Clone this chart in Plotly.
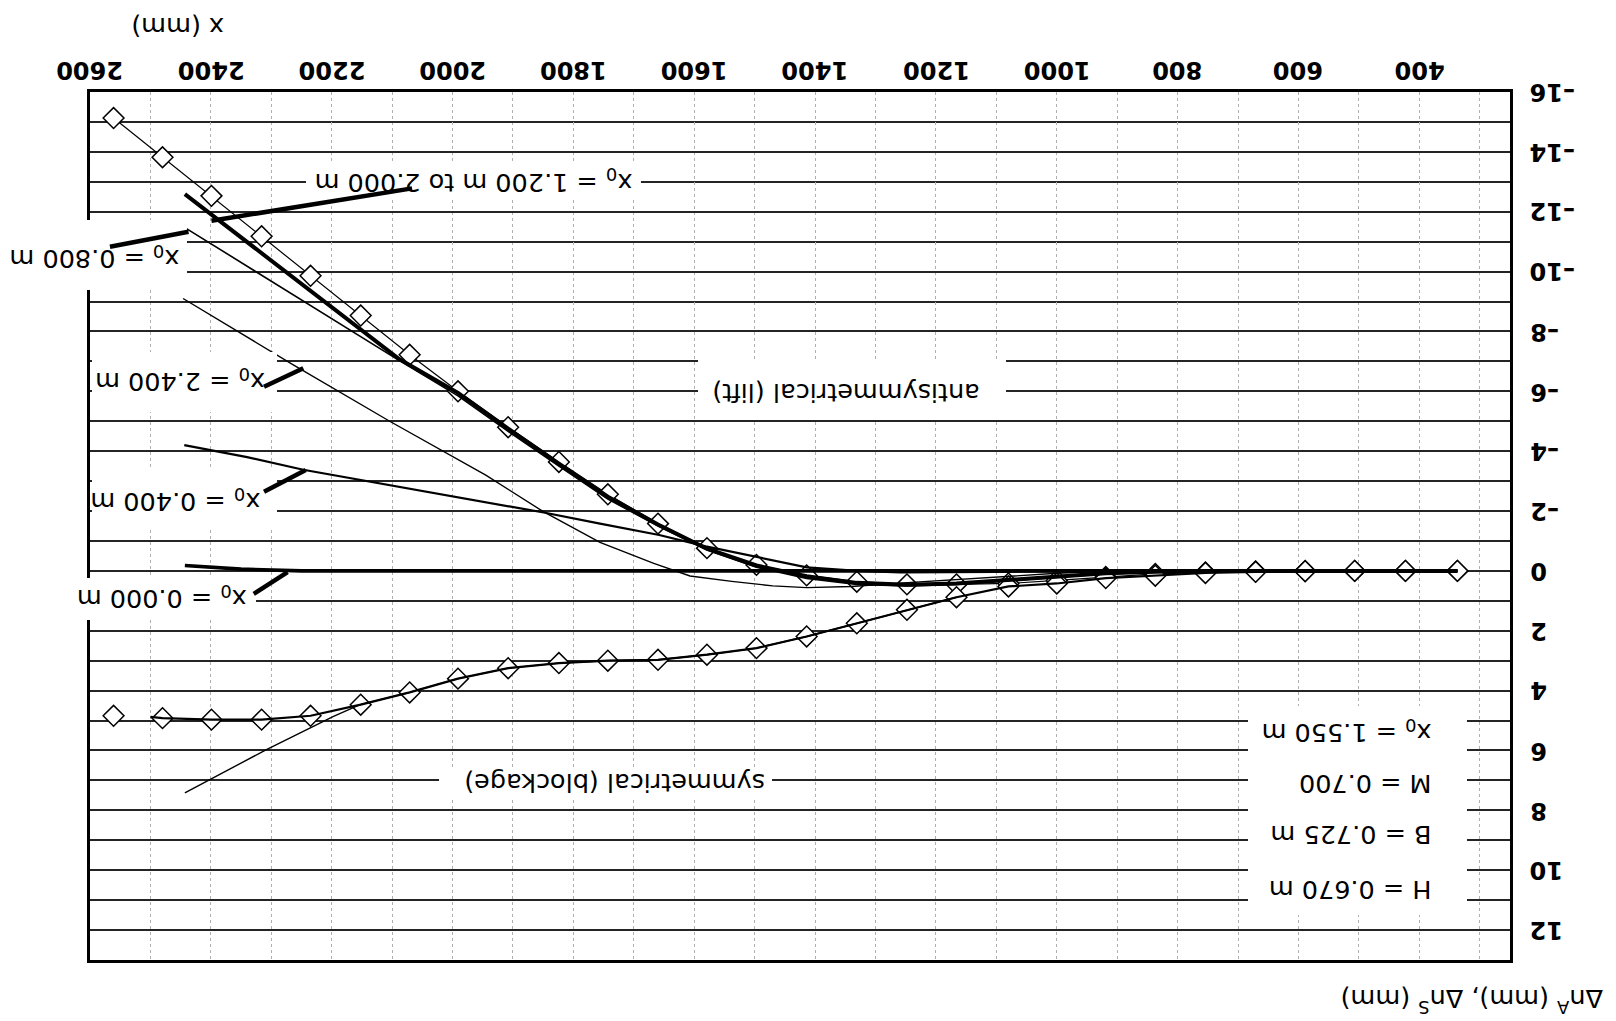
import plotly.graph_objects as go

# ---------------------------------------------------------------
# Measured stations along the model (mm) and measured deflections
# ---------------------------------------------------------------
x_meas = [2561, 2480, 2399, 2316, 2235, 2152, 2071, 1991, 1908, 1824, 1743, 1660,
          1579, 1497, 1414, 1331, 1248, 1166, 1080, 1000, 919, 837, 754, 671,
          589, 507, 423, 337]
dn_anti = [-15.13, -13.82, -12.53, -11.18, -9.86, -8.53, -7.22, -6.0, -4.8, -3.64,
           -2.56, -1.58, -0.76, -0.2, 0.15, 0.36, 0.45, 0.45, 0.42, 0.32, 0.2,
           0.1, 0.05, 0.02, 0.0, 0.0, 0.0, 0.0]
dn_sym = [4.84, 4.92, 4.97, 4.97, 4.84, 4.47, 4.06, 3.6, 3.25, 3.08, 3.0, 2.97,
          2.8, 2.58, 2.19, 1.75, 1.3, 0.88, 0.52, 0.42, 0.24, 0.16, 0.07, 0.03,
          0.01, 0.0, 0.0, 0.0]

# ---------------------------------------------------------------
# Computed curves for several pivot positions x0
# ---------------------------------------------------------------
x_x0_000 = [2443, 2350, 2250, 337]
y_x0_000 = [-0.18, -0.06, 0.0, 0.0]

x_x0_400 = [2444, 2340, 2247, 2100, 1970, 1849, 1756, 1658, 1581, 1495, 1414,
            1330, 1259, 1100, 900, 337]
y_x0_400 = [-4.2, -3.8, -3.38, -2.85, -2.38, -1.95, -1.58, -1.2, -0.82, -0.47,
            -0.12, 0.0, 0.05, 0.03, 0.0, 0.0]

x_x0_800 = [2443, 2090, 1991, 1908, 1824, 1743, 1660, 1579, 1497,
            1414, 1331, 1248, 1166, 1080, 1000, 919, 837, 754, 337]
y_x0_800 = [-11.47, -7.05, -5.85, -4.66, -3.5, -2.4, -1.5, -0.7,
            -0.12, 0.25, 0.45, 0.5, 0.45, 0.32, 0.2, 0.1, 0.04, 0.0, 0.0]

x_x0_1200_2000 = [2443, 2090, 1991, 1908, 1824, 1743, 1660, 1579,
                  1497, 1414, 1331, 1248, 1166, 1080, 1000, 919, 837, 754, 337]
y_x0_1200_2000 = [-12.59, -7.1, -5.95, -4.75, -3.58, -2.48, -1.55,
                  -0.74, -0.18, 0.18, 0.4, 0.46, 0.42, 0.3, 0.18, 0.08, 0.03, 0.0, 0.0]

x_x0_2400 = [2446, 2265, 2104, 1945, 1849, 1756, 1667, 1607, 1538, 1470, 1414,
             1340, 1260, 1170, 1094, 1000, 929, 800, 337]
y_x0_2400 = [-9.1, -6.9, -5.0, -3.2, -1.97, -0.95, -0.25, 0.17, 0.35, 0.5, 0.56,
             0.52, 0.41, 0.3, 0.19, 0.08, 0.02, 0.0, 0.0]

# symmetrical (blockage) response, x0 = 1.550 m
x_sym_fit = [2500, 2480, 2399, 2316, 2235, 2152, 2071, 1991, 1908, 1824, 1743,
             1660, 1579, 1497, 1414, 1331, 1248, 1166, 1080, 1000, 919, 837, 754,
             671, 589, 337]
y_sym_fit = [4.88, 4.92, 4.97, 4.97, 4.84, 4.47, 4.06, 3.6, 3.25, 3.08, 3.0, 2.97,
             2.8, 2.58, 2.19, 1.75, 1.3, 0.88, 0.52, 0.42, 0.24, 0.16, 0.07, 0.03,
             0.0, 0.0]
x_sym_lin = [2443, 2308, 2197, 2153, 2071, 1991, 1908, 1824, 1743, 1660, 1579,
             1497, 1414, 1331, 1248, 1166]
y_sym_lin = [7.42, 5.97, 4.86, 4.47, 4.06, 3.6, 3.25, 3.08, 3.0, 2.97, 2.8, 2.58,
             2.19, 1.75, 1.3, 0.88]

# axis ticks
x_ticks = [400, 600, 800, 1000, 1200, 1400, 1600, 1800, 2000, 2200, 2400, 2600]
y_ticks = [-16, -14, -12, -10, -8, -6, -4, -2, 0, 2, 4, 6, 8, 10, 12]

FONT = "DejaVu Sans"
INK = "black"
GRID = "#242424"

fig = go.Figure()

# measured points
fig.add_trace(go.Scatter(
    x=x_meas, y=dn_anti, mode="lines+markers",
    line=dict(color=INK, width=1.2),
    marker=dict(symbol="diamond", size=16, color="white",
                line=dict(color=INK, width=1.5)),
    hoverinfo="skip"))
fig.add_trace(go.Scatter(
    x=x_meas, y=dn_sym, mode="markers",
    marker=dict(symbol="diamond", size=16, color="white",
                line=dict(color=INK, width=1.5)),
    hoverinfo="skip"))

# computed curves
curves = [
    (x_sym_fit, y_sym_fit, 2.2),
    (x_sym_lin, y_sym_lin, 1.4),
    (x_x0_2400, y_x0_2400, 1.4),
    (x_x0_800, y_x0_800, 1.6),
    (x_x0_400, y_x0_400, 2.2),
    (x_x0_1200_2000, y_x0_1200_2000, 4.0),
    (x_x0_000, y_x0_000, 3.6),
]
for cx, cy, w in curves:
    fig.add_trace(go.Scatter(x=cx, y=cy, mode="lines",
                             line=dict(color=INK, width=w),
                             hoverinfo="skip"))

# white label panels (paper coordinates), then leader lines on top
panels = [
    (0.1521, 0.3880, 0.8779, 0.9171),   # x0 = 1.200 m to 2.000 m
    (-0.0634, 0.0683, 0.7719, 0.8525),  # x0 = 0.800 m
    (0.0014, 0.1317, 0.6313, 0.7005),   # x0 = 2.400 m
    (0.0014, 0.1317, 0.4954, 0.5645),   # x0 = 0.400 m
    (-0.0141, 0.1169, 0.3917, 0.4401),  # x0 = 0.000 m
    (0.4282, 0.6451, 0.6221, 0.6912),   # antisymmetrical (lift)
    (0.2458, 0.4803, 0.1866, 0.2212),   # symmetrical (blockage)
    (0.8155, 0.9697, 0.0518, 0.2926),   # model parameters
]
shapes = []
for x0, x1, y0, y1 in panels:
    shapes.append(dict(type="rect", xref="paper", yref="paper",
                       x0=x0, x1=x1, y0=y0, y1=y1,
                       fillcolor="white", line=dict(width=0), layer="above"))

leaders = [
    (2067, -12.78, 2399, -11.7),
    (2567, -10.83, 2437, -11.33),
    (2312, -6.15, 2247, -6.77),
    (2312, -2.645, 2243, -3.37),
    (2329, 0.766, 2273, 0.04),
]
for lx0, ly0, lx1, ly1 in leaders:
    shapes.append(dict(type="line", xref="x", yref="y",
                       x0=lx0, y0=ly0, x1=lx1, y1=ly1,
                       line=dict(color=INK, width=4.5), layer="above"))

# curve labels
labels = [
    ("x<sub>0</sub> = 1.200 m to 2.000 m", 1965, -13.03, "center"),
    ("x<sub>0</sub> = 0.800 m", 2593, -10.47, "center"),
    ("x<sub>0</sub> = 2.400 m", 2451, -6.38, "center"),
    ("x<sub>0</sub> = 0.400 m", 2459, -2.37, "center"),
    ("x<sub>0</sub> = 0.000 m", 2481, 0.906, "center"),
    ("antisymmetrical (lift)", 1349, -5.94, "center"),
    ("symmetrical (blockage)", 1732, 7.09, "center"),
    ("x<sub>0</sub> = 1.550 m", 377, 5.37, "right"),
    ("M = 0.700", 377, 7.1, "right"),
    ("B = 0.725 m", 377, 8.82, "right"),
    ("H = 0.670 m", 377, 10.66, "right"),
]
annotations = []
for txt, ax_, ay_, anchor in labels:
    annotations.append(dict(text=txt, x=ax_, y=ay_, xref="x", yref="y",
                            showarrow=False, textangle=180, xanchor=anchor,
                            yanchor="middle",
                            font=dict(family=FONT, size=25.5, color=INK)))

# tick labels, drawn turned over like the rest of the sheet
tick_font = dict(family=FONT, size=24, color=INK, weight="bold")
for v in x_ticks:
    annotations.append(dict(text=str(v), x=v, y=1.0253, xref="x", yref="paper",
                            showarrow=False, textangle=180,
                            xanchor="center", yanchor="middle", font=tick_font))
for v in y_ticks:
    lab = ("\u2013" + str(-v)) if v < 0 else str(v)
    annotations.append(dict(text=lab, x=1.0127, y=v, xref="paper", yref="y",
                            showarrow=False, textangle=180,
                            xanchor="left", yanchor="middle", font=tick_font))

# axis titles
annotations.append(dict(text="x (mm)", x=0.0620, y=1.0755, xref="paper", yref="paper",
                        showarrow=False, textangle=180,
                        xanchor="center", yanchor="middle",
                        font=dict(family=FONT, size=25.5, color=INK)))
annotations.append(dict(text="\u0394n<sup>A</sup> (mm), \u0394n<sup>S</sup> (mm)",
                        x=0.9732, y=-0.0472, xref="paper", yref="paper",
                        showarrow=False, textangle=180,
                        xanchor="center", yanchor="middle",
                        font=dict(family=FONT, size=25.5, color=INK)))

fig.update_layout(
    width=1616, height=1021,
    margin=dict(l=90, r=106, t=92, b=61),
    paper_bgcolor="white", plot_bgcolor="white",
    showlegend=False,
    font=dict(family=FONT, size=25.5, color=INK),
    shapes=shapes, annotations=annotations,
)

fig.update_xaxes(
    range=[2600, 250], side="top",
    tickmode="array", tickvals=x_ticks, showticklabels=False, ticks="",
    showgrid=True, gridcolor="#b0b0b0", griddash="dot", gridwidth=1,
    minor=dict(dtick=100, tick0=0, showgrid=True, gridcolor="#b0b0b0",
               griddash="dot", gridwidth=1),
    zeroline=False, showline=True, mirror=True, linecolor=INK, linewidth=2.5,
)
fig.update_yaxes(
    range=[13, -16], side="right",
    tickmode="array", tickvals=y_ticks, showticklabels=False, ticks="",
    showgrid=True, gridcolor=GRID, gridwidth=1.5,
    minor=dict(dtick=1, tick0=0, showgrid=True, gridcolor=GRID, gridwidth=1.5),
    zeroline=False, showline=True, mirror=True, linecolor=INK, linewidth=2.5,
)

fig.write_html("out.html")
